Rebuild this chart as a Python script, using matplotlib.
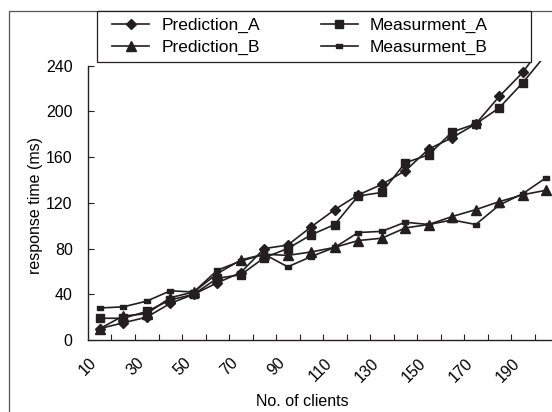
import matplotlib
matplotlib.use("Agg")
import matplotlib.pyplot as plt
from matplotlib.path import Path
from matplotlib.patches import Rectangle

clients = [10, 20, 30, 40, 50, 60, 70, 80, 90, 100, 110, 120, 130, 140, 150, 160, 170, 180, 190, 200]
pred_a = [10, 15, 20, 32, 40, 50, 59, 80, 83, 99, 114, 127, 136, 148, 167, 177, 189, 213, 234, 262]
meas_a = [19, 19, 25, 35, 40, 54, 57, 72, 80, 92, 101, 126, 129, 155, 162, 182, 189, 203, 225, 250]
pred_b = [10, 21, 23, 37, 42, 58, 70, 75, 74, 77, 81, 87, 89, 98, 101, 108, 114, 121, 127, 131]
meas_b = [28, 29, 34, 43, 42, 61, 69, 75, 64, 73, 81, 94, 95, 103, 101, 105, 101, 118, 128, 142]
y_ticks = [0, 40, 80, 120, 160, 200, 240]
x_labels = [str(c) if i % 2 == 0 else "" for i, c in enumerate(clients)]

plt.rcParams['font.family'] = ['Liberation Sans', 'DejaVu Sans']
C = '#231f20'
W, H = 552, 412
fig = plt.figure(figsize=(W / 100, H / 100), dpi=100)

# outer frame (cropped on right/bottom)
fig.patches.append(Rectangle((9 / W, -0.1), 1.2, (H - 11) / H + 0.1, transform=fig.transFigure,
                             fill=False, edgecolor='#555555', linewidth=0.9, zorder=0))

ax = fig.add_axes([88 / W, 72 / H, 470 / W, 279 / H])
xs = list(range(len(clients)))
rect = Path([(-0.5, -0.3), (0.5, -0.3), (0.5, 0.3), (-0.5, 0.3), (-0.5, -0.3)])

l1, = ax.plot(xs, pred_a, color=C, lw=1.2, marker='D', ms=5.5, mfc=C, mec=C, label='Prediction_A')
l2, = ax.plot(xs, meas_a, color=C, lw=1.2, marker='s', ms=6, mfc=C, mec=C, label='Measurment_A')
l3, = ax.plot(xs, pred_b, color=C, lw=1.2, marker='^', ms=7.5, mfc=C, mec=C, label='Prediction_B')
l4, = ax.plot(xs, meas_b, color=C, lw=1.2, marker=rect, ms=4, mfc=C, mec=C, label='Measurment_B')

ax.set_xlim(-0.5, len(clients) - 0.5)
ax.set_ylim(0, 244)
ax.spines['top'].set_visible(False)
ax.spines['right'].set_visible(False)
ax.spines['left'].set_bounds(0, 240)
for s in ['left', 'bottom']:
    ax.spines[s].set_color(C)
    ax.spines[s].set_linewidth(1.0)

ax.set_yticks(y_ticks)
ax.tick_params(axis='y', direction='in', length=4, width=0.8, color=C, labelsize=11.5, pad=11)
ax.set_xticks([i + 0.5 for i in xs[:-1]])
ax.set_xticklabels([])
ax.tick_params(axis='x', direction='in', length=4, width=0.8, color=C)
ax.set_xticks(xs, minor=True)
ax.set_xticklabels(x_labels, minor=True, rotation=45, ha='right', va='top', fontsize=11.5)
ax.tick_params(axis='x', which='minor', length=0, pad=11)

fig.text(36 / W, 1 - 205 / H, 'response time (ms)', rotation=90, ha='center', va='center', fontsize=11.5)
fig.text(302 / W, 1 - 401 / H, 'No. of clients', ha='center', va='center', fontsize=11.5)

# legend frame
fig.patches.append(Rectangle((97 / W, (H - 62) / H), (531 - 97) / W, 51 / H, transform=fig.transFigure,
                             facecolor='white', edgecolor=C, linewidth=0.9, zorder=5))
leg = fig.legend([l1, l3, l2, l4], ['Prediction_A', 'Prediction_B', 'Measurment_A', 'Measurment_B'],
                 ncol=2, loc='center left',
                 bbox_to_anchor=(109 / W, 1 - 36.5 / H),
                 borderaxespad=0, frameon=False,
                 fontsize=12.5, handlelength=2.13, handletextpad=0.69, labelspacing=0.35,
                 borderpad=0.2, columnspacing=3.5)
leg.set_zorder(6)

fig.savefig('out.png', dpi=100)
